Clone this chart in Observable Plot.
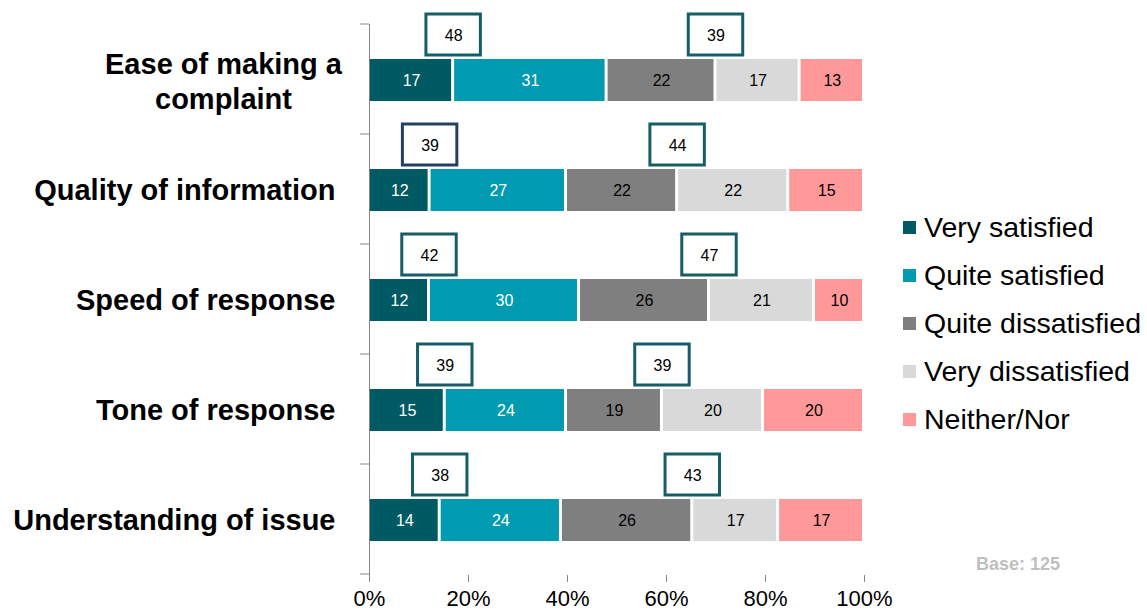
<!DOCTYPE html>
<html>
<head>
<meta charset="utf-8">
<script src="https://cdn.jsdelivr.net/npm/d3@7"></script>
<script src="https://cdn.jsdelivr.net/npm/@observablehq/plot@0.6"></script>
<style>
  html, body { margin: 0; padding: 0; background: #fff; }
  #wrap { position: relative; width: 1147px; height: 612px; font-family: "Liberation Sans", Arial, sans-serif; }
  #legend { position: absolute; left: 903px; top: 204px; }
  .lg { display: flex; align-items: center; height: 47.8px; font-size: 28.5px; color: #000; white-space: nowrap; }
  .sw { width: 13px; height: 13px; margin-right: 8px; }
  #base { position: absolute; left: 976px; top: 554px; font-size: 18px; font-weight: bold; color: #bfbfbf; }
</style>
</head>
<body>
<div id="wrap">
  <div id="chart"></div>
  <div id="legend"></div>
  <div id="base">Base: 125</div>
</div>
<script>
const categories = ["Ease of making a complaint", "Quality of information", "Speed of response", "Tone of response", "Understanding of issue"];
const series = ["Very satisfied", "Quite satisfied", "Quite dissatisfied", "Very dissatisfied", "Neither/Nor"];
const colors = ["#005a64", "#009bb1", "#7f7f7f", "#d9d9d9", "#ff9999"];
const verySatisfied = [17, 12, 12, 15, 14];
const quiteSatisfied = [31, 27, 30, 24, 24];
const quiteDissatisfied = [22, 22, 26, 19, 26];
const veryDissatisfied = [17, 22, 21, 20, 17];
const neitherNor = [13, 15, 10, 20, 17];
const satisfiedTotals = [48, 39, 42, 39, 38];
const dissatisfiedTotals = [39, 44, 47, 39, 43];
const xTicks = [0, 0.2, 0.4, 0.6, 0.8, 1];

const seriesValues = [verySatisfied, quiteSatisfied, quiteDissatisfied, veryDissatisfied, neitherNor];

// table built from arrays: normalized stacked positions
const rows = [];
const boxes = [];
categories.forEach((c, i) => {
  const vals = seriesValues.map(s => s[i]);
  const total = d3.sum(vals);
  let acc = 0;
  const ends = [];
  vals.forEach((v, j) => {
    rows.push({category: c, series: series[j], idx: j, value: v, x1: acc / total, x2: (acc + v) / total});
    acc += v;
    ends.push(acc / total);
  });
  boxes.push({category: c, row: i, kind: "sat", value: satisfiedTotals[i], x: ends[0]});
  boxes.push({category: c, row: i, kind: "dis", value: dissatisfiedTotals[i], x: ends[2]});
});

const half = 0.055;
const labelFont = "'Liberation Sans', Arial, sans-serif";
const catLabel = d => d === "Ease of making a complaint" ? "Ease of making a\ncomplaint" : d;
const chart = Plot.plot({
  width: 1147,
  height: 612,
  marginLeft: 369,
  marginRight: 283,
  marginTop: 24,
  marginBottom: 37,
  style: {fontFamily: labelFont, background: "transparent", overflow: "visible"},
  x: {domain: [0, 1]},
  y: {domain: categories, paddingInner: 0.62, paddingOuter: 0.31, label: null},
  color: {domain: series, range: colors},
  marks: [
    Plot.ruleX([0], {stroke: "#868686"}),
    Plot.barX(rows, {x1: "x1", x2: "x2", y: "category", fill: "series", insetLeft: 1, insetRight: 2}),
    Plot.text(rows.filter(d => d.idx < 2), {x: d => (d.x1 + d.x2) / 2, y: "category", text: "value", fill: "white", fontFamily: labelFont, fontSize: 16}),
    Plot.text(rows.filter(d => d.idx >= 2), {x: d => (d.x1 + d.x2) / 2, y: "category", text: "value", fill: "black", fontFamily: labelFont, fontSize: 16}),
    Plot.barX(boxes, {x1: d => d.x - half, x2: d => d.x + half, y: "category", dy: -46, insetTop: 1, fill: "white",
      stroke: d => (d.row === 1 && d.kind === "sat") ? "#243f60" : "#175d67", strokeWidth: 3}),
    Plot.text(boxes, {x: "x", y: "category", dy: -45, text: "value", fill: "black", fontFamily: labelFont, fontSize: 16}),
    Plot.axisX({ticks: xTicks, tickFormat: d3.format(".0%"), line: true, stroke: "#868686", fill: "black", tickSize: 7, tickPadding: 8, fontSize: 22, label: null}),
    Plot.axisY({ticks: categories.slice(1), tickSize: 0, tickPadding: 34, fontSize: 29, fontWeight: "bold", fill: "black", label: null, tickFormat: catLabel}),
    Plot.axisY({ticks: categories.slice(0, 1), tickSize: 0, tickPadding: 146, textAnchor: "middle", fontSize: 29, fontWeight: "bold", fill: "black", lineHeight: 1.2, label: null, tickFormat: catLabel})
  ]
});
document.getElementById("chart").appendChild(chart);

// y-axis boundary ticks from the band scale
const ys = chart.scale("y");
const svg = d3.select(chart.tagName === "svg" ? chart : chart.querySelector("svg"));
const g = svg.append("g").attr("stroke", "#868686");
for (let k = 0; k <= categories.length; k++) {
  const yy = ys.range[0] + k * ys.step;
  g.append("line").attr("x1", 360).attr("x2", 369).attr("y1", yy).attr("y2", yy);
}

// legend
const lg = d3.select("#legend");
series.forEach((s, i) => {
  const row = lg.append("div").attr("class", "lg");
  row.append("div").attr("class", "sw").style("background", colors[i]);
  row.append("span").text(s);
});
</script>
</body>
</html>
